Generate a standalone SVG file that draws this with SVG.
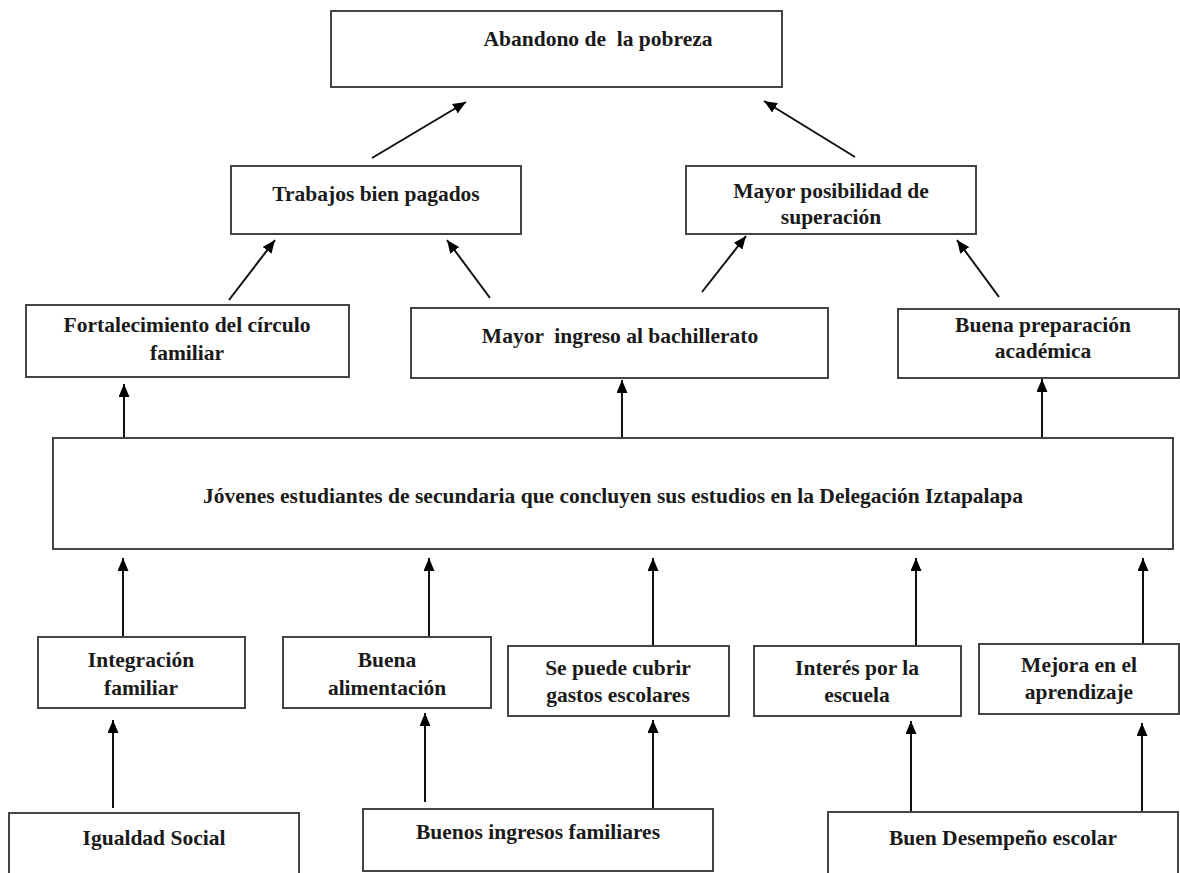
<svg xmlns="http://www.w3.org/2000/svg" width="1180" height="873" viewBox="0 0 1180 873">
<defs>
<marker id="ah" markerUnits="userSpaceOnUse" markerWidth="14" markerHeight="11" refX="13" refY="5.5" orient="auto">
<path d="M0,0 L13,5.5 L0,11 z" fill="#000"/>
</marker>
<style>
.box{fill:#fff;stroke:#444;stroke-width:2}
.t{font-family:'Liberation Serif','Times New Roman',serif;font-weight:bold;font-size:21.5px;fill:#1a1a1a;text-anchor:middle;white-space:pre}
.c{stroke:#111;stroke-width:2;fill:none;marker-end:url(#ah)}
</style>
</defs>
<rect width="1180" height="873" fill="#fff"/>
<g id="connectors">
<line class="c" x1="372" y1="158" x2="466" y2="102"/>
<line class="c" x1="855" y1="157" x2="764" y2="101"/>
<line class="c" x1="229" y1="300" x2="275" y2="240"/>
<line class="c" x1="490" y1="298" x2="447" y2="240"/>
<line class="c" x1="702" y1="292" x2="746" y2="236"/>
<line class="c" x1="999" y1="297" x2="957" y2="240"/>
<line class="c" x1="124" y1="437" x2="124" y2="384"/>
<line class="c" x1="622" y1="437" x2="622" y2="380"/>
<line class="c" x1="1042" y1="437" x2="1042" y2="379"/>
<line class="c" x1="123" y1="637" x2="123" y2="558"/>
<line class="c" x1="429" y1="637" x2="429" y2="558"/>
<line class="c" x1="653" y1="646" x2="653" y2="558"/>
<line class="c" x1="916" y1="646" x2="916" y2="558"/>
<line class="c" x1="1143" y1="644" x2="1143" y2="558"/>
<line class="c" x1="113" y1="808" x2="113" y2="720"/>
<line class="c" x1="425" y1="802" x2="425" y2="713"/>
<line class="c" x1="653" y1="809" x2="653" y2="720"/>
<line class="c" x1="911" y1="812" x2="911" y2="721"/>
<line class="c" x1="1142" y1="812" x2="1142" y2="723"/>
</g>
<g id="n-abandono">
<rect class="box" x="331" y="11" width="451" height="76"/>
<text class="t" x="598" y="46">Abandono de  la pobreza</text>
</g>
<g id="n-trabajos">
<rect class="box" x="231" y="166" width="290" height="68"/>
<text class="t" x="376" y="201">Trabajos bien pagados</text>
</g>
<g id="n-posibilidad">
<rect class="box" x="686" y="166" width="290" height="68"/>
<text class="t" x="831" y="198">Mayor posibilidad de</text>
<text class="t" x="831" y="224">superación</text>
</g>
<g id="n-fortalecimiento">
<rect class="box" x="26" y="305" width="323" height="72"/>
<text class="t" x="187" y="332">Fortalecimiento del círculo</text>
<text class="t" x="187" y="360">familiar</text>
</g>
<g id="n-bachillerato">
<rect class="box" x="411" y="308" width="417" height="70"/>
<text class="t" x="620" y="343">Mayor  ingreso al bachillerato</text>
</g>
<g id="n-preparacion">
<rect class="box" x="898" y="309" width="281" height="69"/>
<text class="t" x="1043" y="332">Buena preparación</text>
<text class="t" x="1043" y="358">académica</text>
</g>
<g id="n-jovenes">
<rect class="box" x="53" y="438" width="1120" height="111"/>
<text class="t" x="613" y="503">Jóvenes estudiantes de secundaria que concluyen sus estudios en la Delegación Iztapalapa</text>
</g>
<g id="n-integracion">
<rect class="box" x="38" y="637" width="207" height="71"/>
<text class="t" x="141" y="667">Integración</text>
<text class="t" x="141" y="695">familiar</text>
</g>
<g id="n-alimentacion">
<rect class="box" x="283" y="637" width="208" height="71"/>
<text class="t" x="387" y="667">Buena</text>
<text class="t" x="387" y="695">alimentación</text>
</g>
<g id="n-gastos">
<rect class="box" x="508" y="646" width="221" height="70"/>
<text class="t" x="618" y="675">Se puede cubrir</text>
<text class="t" x="618" y="702">gastos escolares</text>
</g>
<g id="n-interes">
<rect class="box" x="754" y="646" width="207" height="70"/>
<text class="t" x="857" y="675">Interés por la</text>
<text class="t" x="857" y="702">escuela</text>
</g>
<g id="n-aprendizaje">
<rect class="box" x="979" y="644" width="200" height="70"/>
<text class="t" x="1079" y="672">Mejora en el</text>
<text class="t" x="1079" y="699">aprendizaje</text>
</g>
<g id="n-igualdad">
<rect class="box" x="9" y="813" width="290" height="80"/>
<text class="t" x="154" y="845">Igualdad Social</text>
</g>
<g id="n-ingresos">
<rect class="box" x="363" y="809" width="350" height="62"/>
<text class="t" x="538" y="839">Buenos ingresos familiares</text>
</g>
<g id="n-desempeno">
<rect class="box" x="828" y="812" width="350" height="80"/>
<text class="t" x="1003" y="845">Buen Desempeño escolar</text>
</g>
</svg>
